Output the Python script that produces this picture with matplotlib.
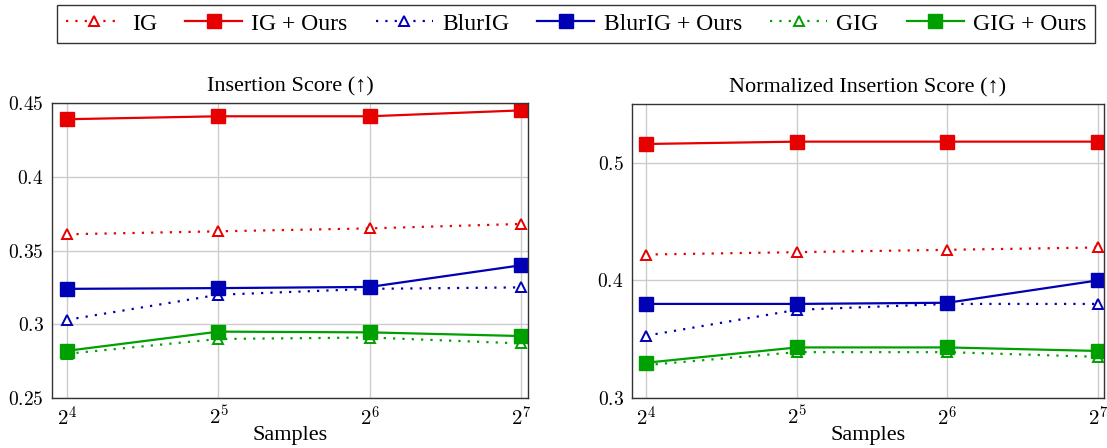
import numpy as np
import matplotlib.pyplot as plt

plt.rcParams['font.family'] = 'Liberation Serif'
plt.rcParams['mathtext.fontset'] = 'cm'

samples = [16, 32, 64, 128]
labels = ['IG', 'IG + Ours', 'BlurIG', 'BlurIG + Ours', 'GIG', 'GIG + Ours']

ins_ig = [0.361, 0.363, 0.365, 0.368]
ins_ig_ours = [0.439, 0.441, 0.441, 0.445]
ins_blur = [0.303, 0.320, 0.324, 0.325]
ins_blur_ours = [0.324, 0.3245, 0.3253, 0.340]
ins_gig = [0.280, 0.290, 0.291, 0.287]
ins_gig_ours = [0.282, 0.295, 0.2945, 0.292]

nins_ig = [0.422, 0.424, 0.426, 0.428]
nins_ig_ours = [0.516, 0.518, 0.518, 0.518]
nins_blur = [0.353, 0.375, 0.380, 0.380]
nins_blur_ours = [0.380, 0.380, 0.381, 0.400]
nins_gig = [0.328, 0.339, 0.339, 0.335]
nins_gig_ours = [0.330, 0.343, 0.343, 0.340]

red = '#e60000'
blue = '#0000b4'
green = '#00a000'
colors = [red, red, blue, blue, green, green]

fig = plt.figure(figsize=(11.07, 4.48), dpi=100)
ax1 = fig.add_axes([52/1107, 1-398/448, 476/1107, 295/448])
ax2 = fig.add_axes([632/1107, 1-398/448, 472/1107, 294/448])

def draw(ax, series, title, ylim, yticks, yticklabels):
    x = np.log2(samples)
    handles = []
    for i, (vals, c) in enumerate(zip(series, colors)):
        if i % 2 == 0:
            h, = ax.plot(x, vals, color=c, linestyle=(0, (1, 3.2)), linewidth=1.6,
                         marker='^', markersize=7.5, markerfacecolor='white',
                         markeredgecolor=c, markeredgewidth=1.4)
        else:
            h, = ax.plot(x, vals, color=c, linestyle='-', linewidth=1.6,
                         marker='s', markersize=10, markerfacecolor=c,
                         markeredgecolor=c)
        handles.append(h)
    ax.set_xlim(3.9, 7.045)
    ax.set_ylim(*ylim)
    ax.set_xticks(x)
    ax.set_xticklabels([r'$2^{%d}$' % int(v) for v in x], fontsize=15)
    ax.set_yticks(yticks)
    ax.set_yticklabels([r'$%s$' % t for t in yticklabels], fontsize=14)
    ax.grid(True, color='#cccccc', linewidth=1.0)
    ax.set_axisbelow(True)
    ax.tick_params(direction='in', length=0, pad=6)
    for s in ax.spines.values():
        s.set_color('#333333')
        s.set_linewidth(1.0)
    ax.set_title(title, fontsize=16, pad=8)
    ax.set_xlabel('Samples', fontsize=16, labelpad=-3)
    return handles

handles = draw(ax1, [ins_ig, ins_ig_ours, ins_blur, ins_blur_ours, ins_gig, ins_gig_ours],
               'Insertion Score (↑)', (0.25, 0.45),
               [0.25, 0.3, 0.35, 0.4, 0.45], ['0.25', '0.3', '0.35', '0.4', '0.45'])
draw(ax2, [nins_ig, nins_ig_ours, nins_blur, nins_blur_ours, nins_gig, nins_gig_ours],
     'Normalized Insertion Score (↑)', (0.3, 0.55),
     [0.3, 0.4, 0.5], ['0.3', '0.4', '0.5'])
ax2.set_xlim(3.905, 7.04)

leg = fig.legend(handles, labels, loc='center', bbox_to_anchor=(576/1107, 1-24/448),
                 ncol=6, fontsize=17, frameon=True, fancybox=False,
                 edgecolor='black', handlelength=2.4, columnspacing=1.2,
                 handletextpad=0.4, borderpad=0.35)
leg.get_frame().set_linewidth(1.0)

fig.savefig('out.png', dpi=100)
